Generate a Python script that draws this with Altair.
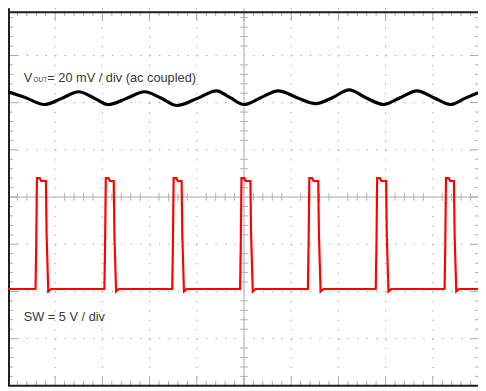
import altair as alt
import pandas as pd

# ---- data ----
# time axis in divisions (10 div full screen)
vout_t = [0.0, 0.375, 0.771, 1.125, 1.5, 1.81, 2.125, 2.5, 2.896, 3.229, 3.583, 4.0,
          4.417, 4.708, 5.0, 5.354, 5.729, 6.125, 6.521, 6.875, 7.229, 7.583, 7.958,
          8.31, 8.667, 9.021, 9.375, 9.667, 9.958]
# VOUT ripple (ac coupled), mV relative to channel marker
vout_mv = [4.6, 2.1, -0.8, 1.7, 4.6, 2.1, -0.8, 1.7, 4.6, 2.1, -1.2, 1.7,
           5.0, 2.1, -0.8, 2.1, 5.0, 2.1, -0.4, 2.1, 5.4, 2.1, -0.8, 2.1,
           5.0, 2.1, -0.8, 1.7, 4.2]

# SW node: rising / falling edge times (div) and levels (V)
sw_rise_t = [0.583, 2.042, 3.479, 4.917, 6.354, 7.792, 9.25]
sw_fall_t = [0.813, 2.25, 3.688, 5.146, 6.583, 8.021, 9.458]
sw_high_v = 11.7
sw_peak_v = 12.0
sw_low_v = 0.26
sw_dip_v = 0.0

# channel settings
VOUT_SCALE, VOUT_POS = 20.0, 2.0   # mV/div, marker position (div)
SW_SCALE, SW_POS = 5.0, -2.0       # V/div, marker position (div)

labels = ["V", "OUT", "= 20 mV / div (ac coupled)", "SW = 5 V / div"]

# ---- layout ----
PX = 48.0
W, H = 478, 383
X_MAX = W / PX
Y_TOP = 189 / PX
Y_BOT = -194 / PX
xs = alt.Scale(domain=[0, X_MAX], nice=False, zero=False)
ys = alt.Scale(domain=[Y_BOT, Y_TOP], nice=False, zero=False)

def X(f="x"):
    return alt.X(f"{f}:Q", scale=xs, axis=None)

def Y(f="y"):
    return alt.Y(f"{f}:Q", scale=ys, axis=None)

# traces
vout_df = pd.DataFrame({
    "x": vout_t,
    "y": [VOUT_POS + v / VOUT_SCALE for v in vout_mv],
})
vout_df["i"] = range(len(vout_df))

sw_pts = [(0.0, sw_low_v)]
for r, f in zip(sw_rise_t, sw_fall_t):
    sw_pts += [(r, sw_low_v), (r + 0.015, 5.0), (r + 0.03, sw_peak_v), (r + 0.09, sw_peak_v),
               (r + 0.12, sw_high_v), (f - 0.01, sw_high_v), (f + 0.005, 6.0),
               (f + 0.04, sw_dip_v), (f + 0.1, sw_low_v)]
sw_pts.append((X_MAX, sw_low_v))
sw_df = pd.DataFrame({"x": [p[0] for p in sw_pts],
                      "y": [SW_POS + p[1] / SW_SCALE for p in sw_pts]})
sw_df["i"] = range(len(sw_df))

# grid
vgrid = pd.DataFrame({"x": [1, 2, 3, 4, 6, 7, 8, 9], "y": 4.0, "y2": -4.0})
hgrid = pd.DataFrame({"y": [-3, -2, -1, 1, 2, 3], "x": 0.0, "x2": 10.0})
cross_v = pd.DataFrame({"x": [5.0], "y": [4.0], "y2": [-4.0]})
cross_h = pd.DataFrame({"y": [0.0], "x": [0.0], "x2": [10.0]})

ct = 4 / PX
minor_x = [k * 0.2 for k in range(1, 50) if k % 5]
minor_y = [k * 0.2 - 4 for k in range(1, 40) if k % 5]
major_x = [float(k) for k in range(1, 10)]
major_y = [float(k) for k in range(-3, 4)]

cross_ticks_v = pd.DataFrame({"x": minor_x, "y": -ct, "y2": ct})
cross_ticks_h = pd.DataFrame({"y": minor_y, "x": 5 - ct, "x2": 5 + ct})

Lm, LM = 5 / PX, 10 / PX
top0 = Y_TOP
rows = []
for xv in minor_x:
    rows.append((xv, top0, xv, top0 - Lm))
    rows.append((xv, -4.0, xv, -4.0 + Lm))
for xv in major_x:
    rows.append((xv, top0, xv, top0 - LM))
    rows.append((xv, -4.0, xv, -4.0 + LM))
for yv in minor_y:
    rows.append((0.0, yv, Lm, yv))
    rows.append((10.0, yv, 10.0 - Lm, yv))
for yv in major_y:
    rows.append((0.0, yv, LM, yv))
    rows.append((10.0, yv, 10.0 - LM, yv))
edge_ticks = pd.DataFrame(rows, columns=["x", "y", "x2", "y2"])

frame_h = pd.DataFrame({"y": [Y_TOP - 1 / PX, -4.0], "x": 0.0, "x2": 10.0})
frame_v = pd.DataFrame({"x": [1 / PX], "y": [4.0], "y2": [-4.0]})

text_df = pd.DataFrame({
    "t": labels,
    "x": [16 / PX, 26 / PX, 40 / PX, 16 / PX],
    "y": [117 / PX, 117 / PX, 117 / PX, -126 / PX],
    "s": [13, 6.5, 13, 13],
})

grid_col = "#9a9a9a"
layers = [
    alt.Chart(vgrid).mark_rule(color=grid_col, strokeWidth=1, strokeDash=[1.2, 8.4]).encode(x=X(), y=Y(), y2="y2"),
    alt.Chart(hgrid).mark_rule(color=grid_col, strokeWidth=1, strokeDash=[1.2, 8.4]).encode(x=X(), x2="x2", y=Y()),
    alt.Chart(cross_v).mark_rule(color="#c4c4c4", strokeWidth=1.5).encode(x=X(), y=Y(), y2="y2"),
    alt.Chart(cross_h).mark_rule(color="#c4c4c4", strokeWidth=1.5).encode(x=X(), x2="x2", y=Y()),
    alt.Chart(cross_ticks_v).mark_rule(color="#b0b0b0", strokeWidth=1).encode(x=X(), y=Y(), y2="y2"),
    alt.Chart(cross_ticks_h).mark_rule(color="#b0b0b0", strokeWidth=1).encode(x=X(), x2="x2", y=Y()),
    alt.Chart(edge_ticks).mark_rule(color="#a8a8a8", strokeWidth=1).encode(x=X(), x2="x2", y=Y(), y2="y2"),
    alt.Chart(frame_h).mark_rule(color="#1e1e1e", strokeWidth=2).encode(x=X(), x2="x2", y=Y()),
    alt.Chart(frame_v).mark_rule(color="#1e1e1e", strokeWidth=2).encode(x=X(), y=Y(), y2="y2"),
    alt.Chart(sw_df).mark_line(color="#ff0000", strokeWidth=2.2).encode(x=X(), y=Y(), order="i:Q"),
    alt.Chart(vout_df).mark_line(color="#000000", strokeWidth=3.2, interpolate="monotone").encode(x=X(), y=Y(), order="i:Q"),
    alt.Chart(text_df).mark_text(align="left", baseline="alphabetic", font="Liberation Sans", color="#383838").encode(
        x=X(), y=Y(), text="t:N", size=alt.Size("s:Q", scale=None, legend=None)),
]

chart = alt.layer(*layers).properties(
    width=W, height=H, padding=0,
    autosize=alt.AutoSizeParams(type="none"),
).configure_view(stroke=None)

chart.save("out.html", embed_options={"renderer": "svg", "actions": False})
